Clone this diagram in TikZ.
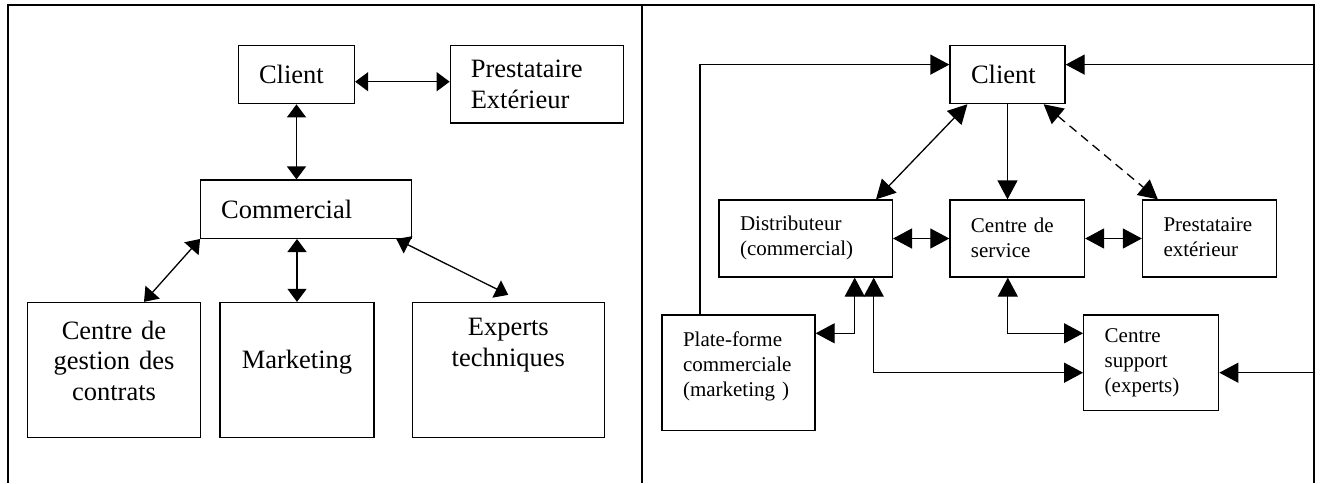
\documentclass[tikz,border=0pt]{standalone}
\usepackage{fontspec}
\setmainfont{Liberation Serif}
\usetikzlibrary{calc, arrows.meta}
\hyphenpenalty=10000
\exhyphenpenalty=10000

\begin{document}
\begin{tikzpicture}[
    x=1pt, y=-1pt,
    line width=1.3pt,
    bigtxt/.style={font=\fontsize{26.5}{30.5}\selectfont},
    smalltxt/.style={font=\fontsize{21}{25}\selectfont},
    lbox/.style={draw=black, line width=1.3pt, inner xsep=20.5pt, inner ysep=0pt, align=left, bigtxt},
    cbox/.style={draw=black, line width=1.3pt, inner xsep=4pt, inner ysep=0pt, align=center, bigtxt},
    sbox/.style={draw=black, line width=1.3pt, inner xsep=21pt, inner ysep=0pt, align=left, smalltxt},
    toppad/.style={execute at end node={\endgraf\vspace{#1}}},
    lhead/.style={>={Triangle[length=13pt, width=19pt]}},
    rhead/.style={>={Triangle[length=19pt, width=20pt]}},
    dashline/.style={dash pattern=on 9pt off 6pt}
]
    \useasboundingbox (0,0) rectangle (1321,483);

    % Outer frame and divider
    \coordinate (fSW) at (8,483);
    \coordinate (fNW) at (8,5);
    \coordinate (fNE) at (1314,5);
    \coordinate (fSE) at (1314,483);
    \coordinate (divN) at (642,5);
    \coordinate (divS) at (642,483);
    \draw[line width=1.6pt] (fSW) -- (fNW) -- (fNE) -- (fSE);
    \draw[line width=1.6pt] (divN) -- (divS);

    % --- LEFT PANEL ---
    \node[lbox, text width=75pt, minimum height=58pt] (lclient) at (296.5,74.7) {Client};
    \node[lbox, text width=132pt, minimum height=77.3pt] (lprest) at (536.8,84.4) {Prestataire\\Extérieur};
    \node[lbox, text width=170pt, minimum height=58.3pt] (lcomm) at (306.2,209.2) {Commercial};

    \node[cbox, text width=165.4pt, minimum height=134.8pt, toppad=18pt] (gestion) at (114,369.9) {Centre de\\gestion des\\contrats};
    \node[cbox, text width=146pt, minimum height=134.8pt, toppad=16pt] (marketing) at (297,369.9) {Marketing};
    \node[cbox, text width=184pt, minimum height=134.8pt, toppad=50pt] (experts) at (508.3,369.9) {Experts\\techniques};

    \begin{scope}[lhead]
        \coordinate (lcr) at ([yshift=-7pt]lclient.east);
        \draw[<->] (lcr) -- (lcr -| lprest.west);
        \draw[<->] (lclient.south) -- (lclient.south |- lcomm.north);
        \draw[<->] (lcomm.south west) -- ([xshift=30pt]gestion.north);
        \draw[<->] (marketing.north |- lcomm.south) -- (marketing.north);
        \draw[<->] ([xshift=-16pt]lcomm.south east) -- ([yshift=7pt]experts.north);
    \end{scope}

    % --- RIGHT PANEL ---
    \node[lbox, inner xsep=21pt, text width=73pt, minimum height=58pt] (rclient) at (1007.5,74.6) {Client};
    \node[sbox, text width=131.3pt, minimum height=77pt, toppad=2pt] (distrib) at (805.7,238.5) {Distributeur\\(commercial)};
    \node[sbox, text width=92.5pt, minimum height=77pt, toppad=2pt] (service) at (1017.2,238.5) {Centre de\\service};
    \node[sbox, text width=92pt, minimum height=77pt, toppad=2pt] (rprest) at (1209.5,238.5) {Prestataire\\extérieur};
    \node[sbox, text width=111pt, minimum height=115.3pt, toppad=12pt] (platform) at (738.5,372.7) {Plate-forme\\commerciale\\(marketing )};
    \node[sbox, text width=93pt, minimum height=95.7pt] (support) at (1151.2,362.9) {Centre\\support\\(experts)};

    \begin{scope}[rhead]
        % Links to Client
        \draw[->] ([xshift=-38.5pt]platform.north) |- ([yshift=10pt]rclient.west);
        \coordinate (rce) at ([yshift=10pt]rclient.east);
        \draw[->] (rce -| fNE) -- (rce);
        \draw[<->] ([xshift=18pt]rclient.south west) -- ([xshift=-17pt]distrib.north east);
        \draw[->] (rclient.south) -- (rclient.south |- service.north);
        \draw[<->, dashline] ([xshift=-22pt]rclient.south east) -- ([xshift=16pt]rprest.north west);

        % Middle row
        \draw[<->] (distrib.east) -- (service.west);
        \draw[<->] (service.east) -- (rprest.west);

        % Bottom links
        \draw[<->] ([yshift=39.4pt]platform.east) -| ([xshift=49pt]distrib.south);
        \draw[<->] ([xshift=68pt]distrib.south) |- ([yshift=-9.8pt]support.west);
        \draw[<->] ([xshift=-9.4pt]service.south) |- ([yshift=29.6pt]support.west);
        \coordinate (rse) at ([yshift=-9.8pt]support.east);
        \draw[->] (rse -| fNE) -- (rse);
    \end{scope}

\end{tikzpicture}
\end{document}
